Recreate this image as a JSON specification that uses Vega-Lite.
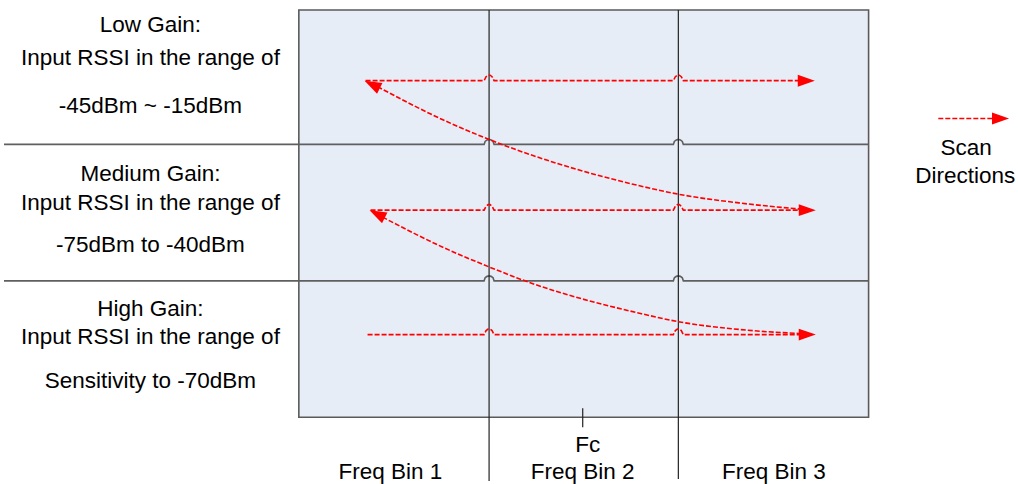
{
  "$schema": "https://vega.github.io/schema/vega-lite/v6.json",
  "width": 1018,
  "height": 484,
  "padding": 0,
  "autosize": {"type": "fit", "contains": "padding"},
  "config": {"view": {"stroke": null}},
  "datasets": {
    "box": [{"x": 296, "x2": 868, "y": 10, "y2": 419}],
    "grid": [
      {"series": "h1", "x": 0, "y": 145}, {"series": "h1", "x": 482, "y": 145}, {"series": "h1", "x": 483, "y": 142}, {"series": "h1", "x": 485, "y": 140.5}, {"series": "h1", "x": 487, "y": 140}, {"series": "h1", "x": 489, "y": 140.5}, {"series": "h1", "x": 491, "y": 142}, {"series": "h1", "x": 492, "y": 145},
      {"series": "h1", "x": 672, "y": 145}, {"series": "h1", "x": 673, "y": 142}, {"series": "h1", "x": 675, "y": 140.5}, {"series": "h1", "x": 677, "y": 140}, {"series": "h1", "x": 679, "y": 140.5}, {"series": "h1", "x": 681, "y": 142}, {"series": "h1", "x": 682, "y": 145}, {"series": "h1", "x": 868, "y": 145},
      {"series": "h2", "x": 0, "y": 282}, {"series": "h2", "x": 482, "y": 282}, {"series": "h2", "x": 483, "y": 279}, {"series": "h2", "x": 485, "y": 277.5}, {"series": "h2", "x": 487, "y": 277}, {"series": "h2", "x": 489, "y": 277.5}, {"series": "h2", "x": 491, "y": 279}, {"series": "h2", "x": 492, "y": 282},
      {"series": "h2", "x": 672, "y": 282}, {"series": "h2", "x": 673, "y": 279}, {"series": "h2", "x": 675, "y": 277.5}, {"series": "h2", "x": 677, "y": 277}, {"series": "h2", "x": 679, "y": 277.5}, {"series": "h2", "x": 681, "y": 279}, {"series": "h2", "x": 682, "y": 282}, {"series": "h2", "x": 868, "y": 282}
    ],
    "verticals": [
      {"x": 487, "y": 10, "y2": 483},
      {"x": 677, "y": 10, "y2": 481},
      {"x": 581, "y": 410, "y2": 429}
    ],
    "scans": [
      {"series": "r1", "x": 363, "y": 81}, {"series": "r1", "x": 482, "y": 81}, {"series": "r1", "x": 484, "y": 77}, {"series": "r1", "x": 486, "y": 75.5}, {"series": "r1", "x": 488, "y": 75.5}, {"series": "r1", "x": 490, "y": 77}, {"series": "r1", "x": 492, "y": 81},
      {"series": "r1", "x": 672, "y": 81}, {"series": "r1", "x": 674, "y": 77}, {"series": "r1", "x": 676, "y": 75.5}, {"series": "r1", "x": 678, "y": 75.5}, {"series": "r1", "x": 680, "y": 77}, {"series": "r1", "x": 682, "y": 81}, {"series": "r1", "x": 802, "y": 81},
      {"series": "r2", "x": 368, "y": 211}, {"series": "r2", "x": 482, "y": 211}, {"series": "r2", "x": 484, "y": 207}, {"series": "r2", "x": 486, "y": 205.5}, {"series": "r2", "x": 488, "y": 205.5}, {"series": "r2", "x": 490, "y": 207}, {"series": "r2", "x": 492, "y": 211},
      {"series": "r2", "x": 672, "y": 211}, {"series": "r2", "x": 674, "y": 207}, {"series": "r2", "x": 676, "y": 205.5}, {"series": "r2", "x": 678, "y": 205.5}, {"series": "r2", "x": 680, "y": 207}, {"series": "r2", "x": 682, "y": 211}, {"series": "r2", "x": 803, "y": 211},
      {"series": "r3", "x": 365, "y": 336}, {"series": "r3", "x": 482, "y": 336}, {"series": "r3", "x": 484, "y": 332}, {"series": "r3", "x": 486, "y": 330.5}, {"series": "r3", "x": 488, "y": 330.5}, {"series": "r3", "x": 490, "y": 332}, {"series": "r3", "x": 492, "y": 336},
      {"series": "r3", "x": 672, "y": 336}, {"series": "r3", "x": 674, "y": 332}, {"series": "r3", "x": 676, "y": 330.5}, {"series": "r3", "x": 678, "y": 330.5}, {"series": "r3", "x": 680, "y": 332}, {"series": "r3", "x": 682, "y": 336}, {"series": "r3", "x": 803, "y": 336},
      {"series": "legend", "x": 938, "y": 119}, {"series": "legend", "x": 996, "y": 119}
    ],
    "curves": [
      {"series": "c1", "x": 375, "y": 87}, {"series": "c1", "x": 440, "y": 120}, {"series": "c1", "x": 487, "y": 140}, {"series": "c1", "x": 640, "y": 187}, {"series": "c1", "x": 677, "y": 195}, {"series": "c1", "x": 740, "y": 204}, {"series": "c1", "x": 800, "y": 210},
      {"series": "c2", "x": 380, "y": 218}, {"series": "c2", "x": 440, "y": 248}, {"series": "c2", "x": 487, "y": 268}, {"series": "c2", "x": 523, "y": 282}, {"series": "c2", "x": 640, "y": 315}, {"series": "c2", "x": 677, "y": 323}, {"series": "c2", "x": 740, "y": 331}, {"series": "c2", "x": 800, "y": 335}
    ],
    "heads": [
      {"x": 814, "y": 81, "angle": 0},
      {"x": 815, "y": 211, "angle": 0},
      {"x": 815, "y": 336, "angle": 0},
      {"x": 1009, "y": 119, "angle": 0},
      {"x": 362, "y": 81, "angle": 207},
      {"x": 367, "y": 211, "angle": 207}
    ],
    "labels": [
      {"text": "Low Gain:", "x": 147, "y": 32},
      {"text": "Input RSSI in the range of", "x": 147, "y": 65},
      {"text": "-45dBm ~ -15dBm", "x": 147, "y": 113},
      {"text": "Medium Gain:", "x": 147, "y": 182},
      {"text": "Input RSSI in the range of", "x": 147, "y": 211},
      {"text": "-75dBm to -40dBm", "x": 147, "y": 253},
      {"text": "High Gain:", "x": 147, "y": 317},
      {"text": "Input RSSI in the range of", "x": 147, "y": 345},
      {"text": "Sensitivity to -70dBm", "x": 147, "y": 390},
      {"text": "Fc", "x": 586, "y": 454},
      {"text": "Freq Bin 1", "x": 388, "y": 481},
      {"text": "Freq Bin 2", "x": 581, "y": 481},
      {"text": "Freq Bin 3", "x": 773, "y": 481},
      {"text": "Scan", "x": 966, "y": 156},
      {"text": "Directions", "x": 965, "y": 184}
    ]
  },
  "encoding": {
    "x": {"field": "x", "type": "quantitative", "axis": null, "scale": {"domain": [0, 1018], "nice": false, "zero": false}},
    "y": {"field": "y", "type": "quantitative", "axis": null, "scale": {"domain": [0, 484], "nice": false, "zero": false, "reverse": true}}
  },
  "layer": [
    {
      "data": {"name": "box"},
      "mark": {"type": "rect", "fill": "#E7EDF7", "stroke": "#5a5a5a", "strokeWidth": 1.6},
      "encoding": {"x2": {"field": "x2"}, "y2": {"field": "y2"}}
    },
    {
      "data": {"name": "grid"},
      "mark": {"type": "line", "stroke": "#5f5f5f", "strokeWidth": 1.6, "interpolate": "linear"},
      "encoding": {"detail": {"field": "series"}}
    },
    {
      "data": {"name": "verticals"},
      "mark": {"type": "rule", "stroke": "#222222", "strokeWidth": 1.2},
      "encoding": {"y2": {"field": "y2"}}
    },
    {
      "data": {"name": "scans"},
      "mark": {"type": "line", "stroke": "#FF0000", "strokeWidth": 1.6, "strokeDash": [5, 2], "interpolate": "linear"},
      "encoding": {"detail": {"field": "series"}}
    },
    {
      "data": {"name": "curves"},
      "mark": {"type": "line", "stroke": "#FF0000", "strokeWidth": 1.6, "strokeDash": [5, 2], "interpolate": "monotone"},
      "encoding": {"detail": {"field": "series"}}
    },
    {
      "data": {"name": "heads"},
      "mark": {"type": "point", "shape": "M0,0L-2,-0.7L-2,0.7Z", "filled": true, "fill": "#FF0000", "strokeWidth": 0, "opacity": 1, "size": 290},
      "encoding": {"angle": {"field": "angle", "type": "quantitative", "scale": null}}
    },
    {
      "data": {"name": "labels"},
      "mark": {"type": "text", "font": "Liberation Sans", "fontSize": 22.5, "baseline": "alphabetic", "align": "center", "color": "#000000"},
      "encoding": {"text": {"field": "text"}}
    }
  ]
}
